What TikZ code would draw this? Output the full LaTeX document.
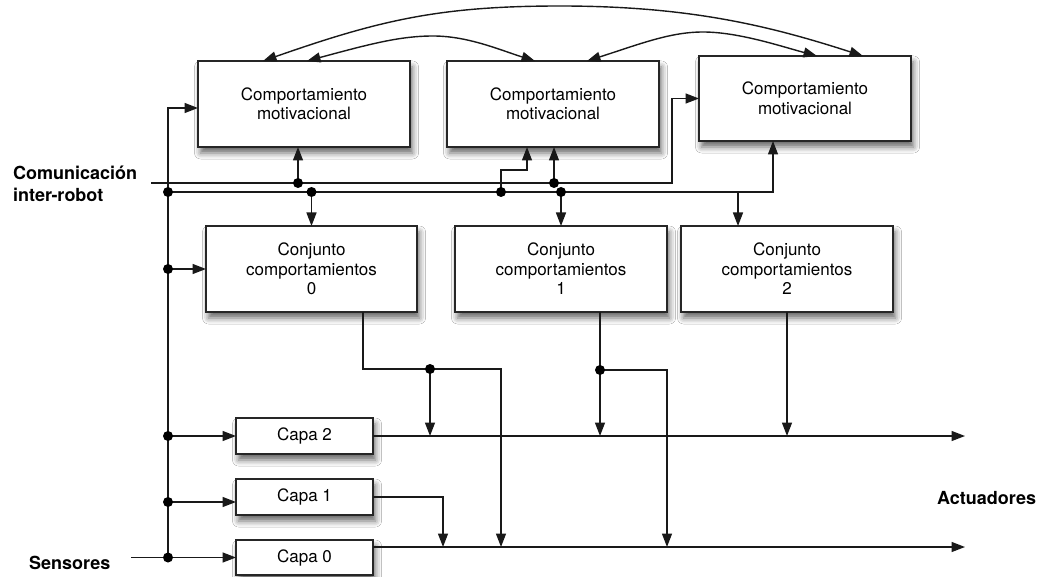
\documentclass[tikz,border=0pt]{standalone}
\usepackage{fontspec}
\setmainfont{TeX Gyre Heros}
\usetikzlibrary{arrows.meta,calc,shadows.blur}

\begin{document}
\begin{tikzpicture}[x=1pt,y=-1pt,
  box/.style={draw=black!85, line width=1.7pt, fill=white, inner sep=0pt, outer sep=0pt,
    align=center, font=\fontsize{17}{19.5}\selectfont,
    blur shadow={shadow xshift=2.5pt, shadow yshift=-6pt, shadow blur radius=6pt, shadow opacity=60}},
  wire/.style={line width=1.4pt, black!90},
  tip/.tip={Triangle[length=13.5pt,width=10pt]},
  arr/.style={wire, -tip},
  biarr/.style={wire, tip-tip},
  lbl/.style={font=\bfseries\fontsize{18}{22}\selectfont, align=left, inner sep=0pt, anchor=west},
]
\useasboundingbox (0,0) rectangle (1041,577);
\fill[white] (0,0) rectangle (1041,577);

% motivational behaviour modules
\node[box, minimum width=212pt, minimum height=86pt] (m0) at (304,104) {Comportamiento\\motivacional};
\node[box, minimum width=212pt, minimum height=86pt] (m1) at (553,104) {Comportamiento\\motivacional};
\node[box, minimum width=212pt, minimum height=85pt] (m2) at (805,98.5) {Comportamiento\\motivacional};

% behaviour sets
\node[box, minimum width=211pt, minimum height=86pt] (c0) at (311.5,269) {Conjunto\\comportamientos\\0};
\node[box, minimum width=212pt, minimum height=86pt] (c1) at (561,269) {Conjunto\\comportamientos\\1};
\node[box, minimum width=212pt, minimum height=86pt] (c2) at (787,269) {Conjunto\\comportamientos\\2};

% layers
\node[box, minimum width=137pt, minimum height=36pt] (l2) at (304.5,436) {Capa 2};
\node[box, minimum width=137pt, minimum height=36pt] (l1) at (304.5,497) {Capa 1};
\node[box, minimum width=137pt, minimum height=35pt] (l0) at (304.5,557.5) {Capa 0};

% labels
\node[lbl] (com) at (13,184) {Comunicación\\inter-robot};
\node[lbl] (sens) at (29,563) {Sensores};
\node[lbl] (act) at (937,498) {Actuadores};

% junction points
\coordinate (jL)  at (168,192);
\coordinate (jC0) at (168,269);
\coordinate (jK2) at (168,436);
\coordinate (jK1) at (168,502);
\coordinate (jK0) at (168,557.5);
\coordinate (jU0) at (298,183);
\coordinate (jL0) at (311.5,192);
\coordinate (jL1) at (501,192);
\coordinate (jU1) at (554,183);
\coordinate (jL2) at (561,192);
\coordinate (jA)  at (430,369);
\coordinate (jB)  at (600,370);

% bends and ends
\coordinate (ubL) at (151,183);
\coordinate (ubR) at (672,183);
\coordinate (lbR) at (773,192);
\coordinate (kC2) at (738,192);
\coordinate (kM1) at (527,170);
\coordinate (busTop) at (168,108);
\coordinate (sIn) at (131,557.5);
\coordinate (a2) at (965,436);
\coordinate (a0) at (965,547);
\coordinate (t1) at (443,547);
\coordinate (t0) at (501,547);
\coordinate (t1b) at (667,547);

% inter-robot communication buses
\draw[arr] (ubL) -- (ubR) |- (m2.west);
\draw[arr] (jL) -- (lbR) -- (lbR |- m2.south);
\draw[arr] (jU0) -- (jU0 |- m0.south);
\draw[arr] (jL0) -- (c0.north);
\draw[arr] (jL1) |- (kM1) -- (kM1 |- m1.south);
\draw[arr] (jU1) -- (jU1 |- m1.south);
\draw[arr] (jL2) -- (c1.north);
\draw[arr] (kC2) -- (kC2 |- c2.north);

% sensor bus
\draw[arr] (jK0) -- (busTop) -- (busTop -| m0.west);
\draw[arr] (sIn) -- (l0.west);
\draw[arr] (jC0) -- (c0.west);
\draw[arr] (jK2) -- (l2.west);
\draw[arr] (jK1) -- (jK1 -| l1.west);

% outputs of the behaviour sets
\draw[arr] ($(c0.south)+(51.5,0)$) |- (jA) -| (t0);
\draw[arr] (jA) -- (jA |- a2);
\draw[arr] ($(c1.south)+(39,0)$) |- (jB) -| (t1b);
\draw[arr] (jB) -- (jB |- a2);
\draw[arr] (c2.south) -- (c2.south |- a2);

% outputs of the layers
\draw[arr] (l2.east) -- (a2);
\draw[arr] (l1.east) -| (t1);
\draw[arr] (l0.east |- a0) -- (a0);

% links between motivational modules
\draw[biarr] ($(m0.north west)+(65,0)$) .. controls (380,20) and (440,6) .. (560,6)
  .. controls (690,6) and (770,26) .. ($(m2.north west)+(164,0)$);
\draw[biarr] ($(m0.north west)+(109,0)$) .. controls (370,44) and (400,36) .. (433,36)
  .. controls (468,36) and (500,50) .. ($(m1.north west)+(88,0)$);
\draw[biarr] ($(m1.north west)+(140,0)$) .. controls (640,44) and (670,32) .. (703,32)
  .. controls (738,32) and (780,46) .. ($(m2.north west)+(118,0)$);

% junction dots
\foreach \j in {jL,jC0,jK2,jK1,jK0,jU0,jL0,jL1,jU1,jL2,jA,jB}
  \fill[black] (\j) circle[radius=5pt];
\end{tikzpicture}
\end{document}
